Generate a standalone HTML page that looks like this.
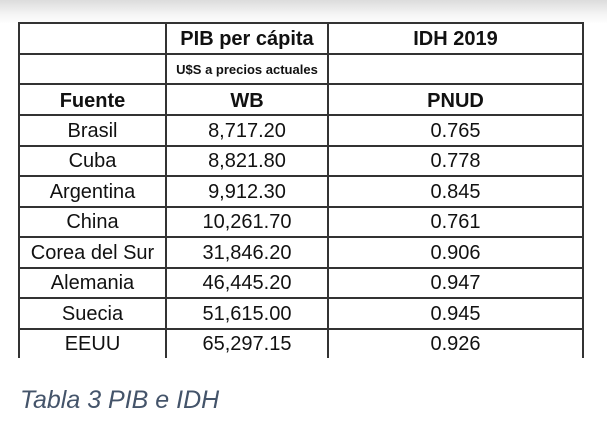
<!DOCTYPE html>
<html><head><meta charset="utf-8"><style>
body{margin:0;width:607px;height:438px;background:linear-gradient(#dcdcdc 0px,#f4f4f4 14px,#fff 24px);position:relative;overflow:hidden;font-family:"Liberation Sans",sans-serif;color:#111}
.h{position:absolute;height:2px;background:#333;left:18px;width:566px}
.v{position:absolute;width:2px;background:#333;top:22px;height:336px}
.t{position:absolute;text-align:center;font-size:20px;line-height:30px}
.c0{left:19px;width:147px}.c1{left:166px;width:162px}.c2{left:328px;width:255px}
.b{font-weight:bold}
</style></head><body>
<div class="h" style="top:22px"></div>
<div class="h" style="top:53px"></div>
<div class="h" style="top:83px"></div>
<div class="h" style="top:114px"></div>
<div class="h" style="top:145px"></div>
<div class="h" style="top:175px"></div>
<div class="h" style="top:206px"></div>
<div class="h" style="top:236px"></div>
<div class="h" style="top:267px"></div>
<div class="h" style="top:297px"></div>
<div class="h" style="top:328px"></div>
<div class="v" style="left:18px"></div>
<div class="v" style="left:165px"></div>
<div class="v" style="left:327px"></div>
<div class="v" style="left:582px"></div>
<div class="t c1 b" style="top:24px">PIB per cápita</div>
<div class="t c2 b" style="top:24px">IDH 2019</div>
<div class="t c1 b" style="top:55px;font-size:13px">U$S a precios actuales</div>
<div class="t c0 b" style="top:86px">Fuente</div>
<div class="t c1 b" style="top:86px">WB</div>
<div class="t c2 b" style="top:86px">PNUD</div>
<div class="t c0" style="top:116px">Brasil</div><div class="t c1" style="top:116px">8,717.20</div><div class="t c2" style="top:116px">0.765</div>
<div class="t c0" style="top:146px">Cuba</div><div class="t c1" style="top:146px">8,821.80</div><div class="t c2" style="top:146px">0.778</div>
<div class="t c0" style="top:177px">Argentina</div><div class="t c1" style="top:177px">9,912.30</div><div class="t c2" style="top:177px">0.845</div>
<div class="t c0" style="top:207px">China</div><div class="t c1" style="top:207px">10,261.70</div><div class="t c2" style="top:207px">0.761</div>
<div class="t c0" style="top:238px">Corea del Sur</div><div class="t c1" style="top:238px">31,846.20</div><div class="t c2" style="top:238px">0.906</div>
<div class="t c0" style="top:268px">Alemania</div><div class="t c1" style="top:268px">46,445.20</div><div class="t c2" style="top:268px">0.947</div>
<div class="t c0" style="top:299px">Suecia</div><div class="t c1" style="top:299px">51,615.00</div><div class="t c2" style="top:299px">0.945</div>
<div class="t c0" style="top:329px">EEUU</div><div class="t c1" style="top:329px">65,297.15</div><div class="t c2" style="top:329px">0.926</div>
<div style="position:absolute;left:20px;top:386px;font-size:25px;font-style:italic;color:#44546a">Tabla 3 PIB e IDH</div>
</body></html>
